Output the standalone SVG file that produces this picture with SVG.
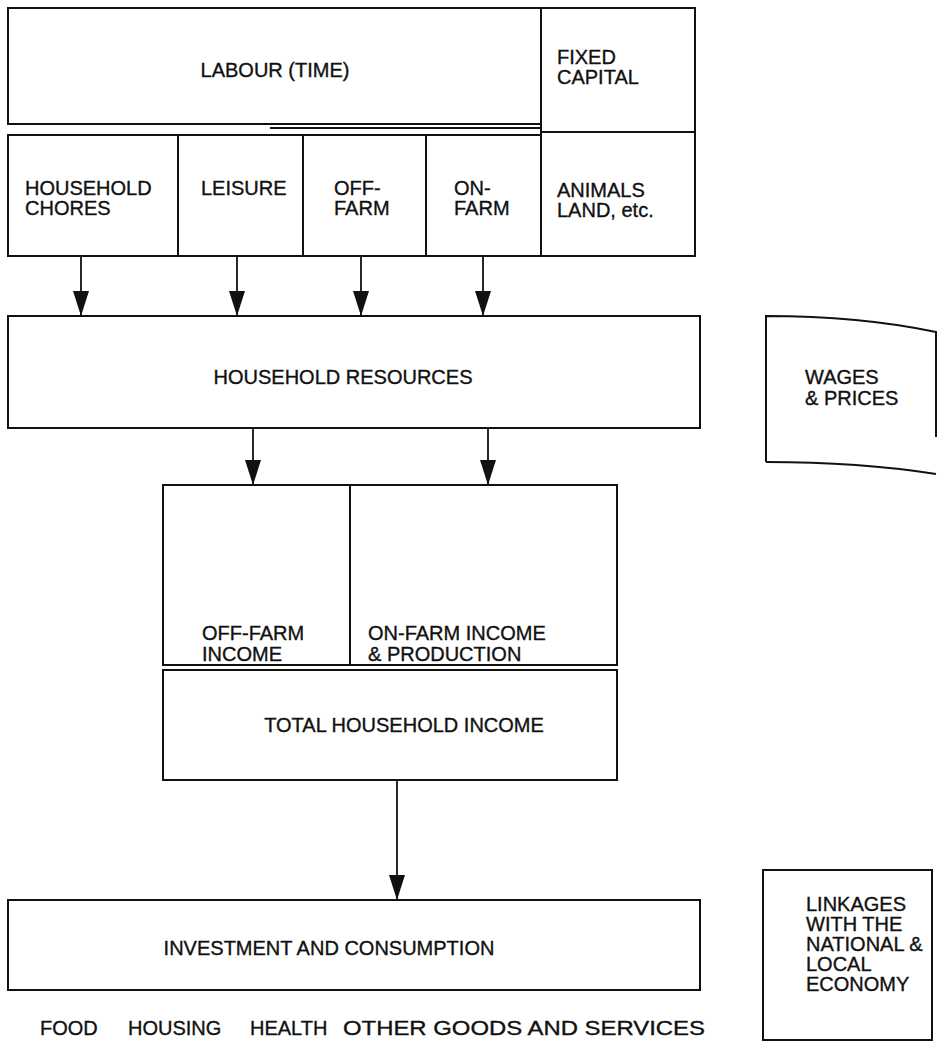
<svg xmlns="http://www.w3.org/2000/svg" width="942" height="1053" viewBox="0 0 942 1053">
<style>
.b{fill:none;stroke:#111;stroke-width:2}
.t{font-family:"Liberation Sans",Arial,sans-serif;font-size:20px;fill:#111;stroke:#111;stroke-width:0.35}
.c{text-anchor:middle}
.l{stroke:#111;stroke-width:1.8;fill:none}
</style>
<defs>
<marker id="arr" markerWidth="25" markerHeight="16" refX="25" refY="8" orient="auto" markerUnits="userSpaceOnUse" viewBox="0 0 25 16">
<path d="M0,0 L25,8 L0,16 Z" fill="#111"/>
</marker>
</defs>
<rect width="942" height="1053" fill="#fff"/>
<g id="labour">
<rect class="b" x="8" y="8" width="533" height="116"/>
<line class="l" x1="270" y1="128" x2="541" y2="128" stroke-width="1.2"/>
<text class="t c" x="275" y="77">LABOUR (TIME)</text>
</g>
<g id="fixed-capital">
<rect class="b" x="541" y="8" width="154" height="124"/>
<text class="t" x="557" y="64">FIXED</text>
<text class="t" x="557" y="84">CAPITAL</text>
</g>
<g id="animals">
<rect class="b" x="541" y="132" width="154" height="124"/>
<text class="t" x="557" y="197">ANIMALS</text>
<text class="t" x="557" y="217">LAND, etc.</text>
</g>
<g id="chores">
<rect class="b" x="8" y="135" width="170" height="121"/>
<text class="t" x="25" y="195">HOUSEHOLD</text>
<text class="t" x="25" y="215">CHORES</text>
</g>
<g id="leisure">
<rect class="b" x="178" y="135" width="125" height="121"/>
<text class="t" x="201" y="195">LEISURE</text>
</g>
<g id="off-farm">
<rect class="b" x="303" y="135" width="123" height="121"/>
<text class="t" x="334" y="195">OFF-</text>
<text class="t" x="334" y="215">FARM</text>
</g>
<g id="on-farm">
<rect class="b" x="426" y="135" width="115" height="121"/>
<text class="t" x="454" y="195">ON-</text>
<text class="t" x="454" y="215">FARM</text>
</g>
<g id="resources">
<rect class="b" x="8" y="316" width="692" height="112"/>
<text class="t c" x="343" y="384">HOUSEHOLD RESOURCES</text>
</g>
<g id="wages">
<path class="b" d="M766,462 L766,316 Q860,316 936,332 L936,437"/>
<path class="b" d="M766,462 Q860,462 936,474"/>
<text class="t" x="805" y="384">WAGES</text>
<text class="t" x="805" y="405">&amp; PRICES</text>
</g>
<g id="off-farm-income">
<rect class="b" x="163" y="485" width="187" height="180"/>
<text class="t" x="202" y="640">OFF-FARM</text>
<text class="t" x="202" y="661">INCOME</text>
</g>
<g id="on-farm-income">
<rect class="b" x="350" y="485" width="267" height="180"/>
<text class="t" x="368" y="640">ON-FARM INCOME</text>
<text class="t" x="368" y="661">&amp; PRODUCTION</text>
</g>
<g id="total-income">
<rect class="b" x="163" y="670" width="454" height="110"/>
<text class="t c" x="404" y="732">TOTAL HOUSEHOLD INCOME</text>
</g>
<g id="investment">
<rect class="b" x="8" y="900" width="692" height="90"/>
<text class="t c" x="329" y="955">INVESTMENT AND CONSUMPTION</text>
<text class="t" x="40" y="1035">FOOD</text>
<text class="t" x="128" y="1035">HOUSING</text>
<text class="t" x="250" y="1035">HEALTH</text>
<text class="t" x="343" y="1035" textLength="362" lengthAdjust="spacingAndGlyphs">OTHER GOODS AND SERVICES</text>
</g>
<g id="linkages">
<rect class="b" x="763" y="870" width="169" height="170"/>
<text class="t" x="806" y="911">LINKAGES</text>
<text class="t" x="806" y="931">WITH THE</text>
<text class="t" x="806" y="951">NATIONAL &amp;</text>
<text class="t" x="806" y="971">LOCAL</text>
<text class="t" x="806" y="991">ECONOMY</text>
</g>
<g id="connectors">
<line class="l" x1="81" y1="256" x2="81" y2="316" marker-end="url(#arr)"/>
<line class="l" x1="237" y1="256" x2="237" y2="316" marker-end="url(#arr)"/>
<line class="l" x1="361" y1="256" x2="361" y2="316" marker-end="url(#arr)"/>
<line class="l" x1="483" y1="256" x2="483" y2="316" marker-end="url(#arr)"/>
<line class="l" x1="253" y1="428" x2="253" y2="485" marker-end="url(#arr)"/>
<line class="l" x1="488" y1="428" x2="488" y2="485" marker-end="url(#arr)"/>
<line class="l" x1="397" y1="780" x2="397" y2="900" marker-end="url(#arr)"/>
</g>
</svg>
